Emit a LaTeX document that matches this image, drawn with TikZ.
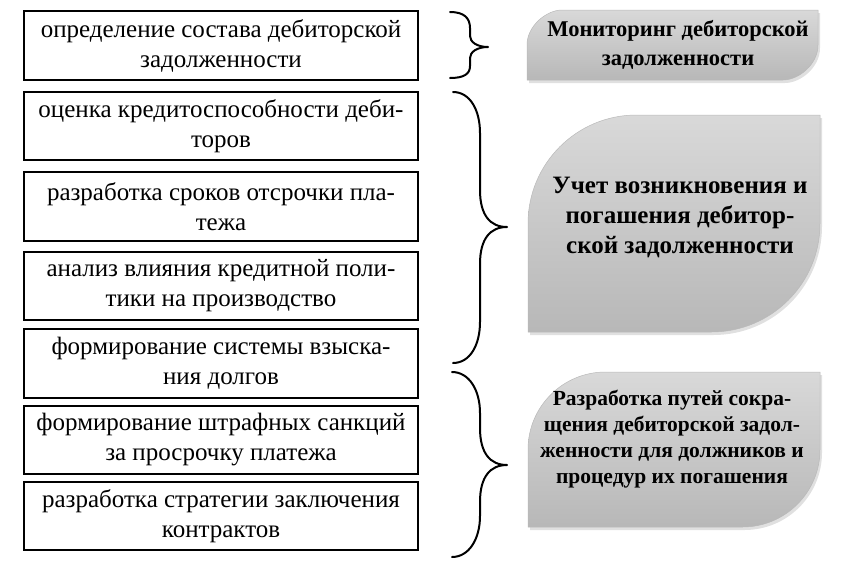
\documentclass[tikz,border=0pt]{standalone}
\usepackage{fontspec}
\setmainfont{Liberation Serif}
\begin{document}
\begin{tikzpicture}[x=1pt,y=-1pt,
  lbox/.style={draw=black, line width=1.4pt, minimum width=394pt, align=center, inner sep=0pt,
    font=\fontsize{25}{30}\selectfont},
  leaf/.style={draw=gray!55, line width=0.5pt, top color=black!15, bottom color=black!28},
  leafshadow/.style={fill=black, opacity=0.12},
  brc/.style={line width=2pt, line cap=round, line join=round},
  rtext/.style={align=center, inner sep=0pt, font=\bfseries\fontsize{22.5}{29}\selectfont}]
\useasboundingbox (0,0) rectangle (841,565);
% left boxes
\node[lbox, minimum height=69pt] (b1) at (221,45.5) {определение состава дебиторской\\задолженности};
\node[lbox, minimum height=68pt] (b2) at (221,126) {оценка кредитоспособности деби-\\торов};
\node[lbox, minimum height=69pt] (b3) at (221,206.5) {разработка сроков отсрочки пла-\\тежа};
\node[lbox, minimum height=68pt] (b4) at (221,286) {анализ влияния кредитной поли-\\тики на производство};
\node[lbox, minimum height=69pt] (b5) at (221,363.5) {формирование системы взыска-\\ния долгов};
\node[lbox, minimum height=68pt] (b6) at (221,440) {формирование штрафных санкций\\за просрочку платежа};
\node[lbox, minimum height=68pt] (b7) at (221,516) {разработка стратегии заключения\\контрактов};
% braces
\draw[brc] (450,12) .. controls (464,12) and (470,18) .. (470,28) -- (470,36)
  .. controls (470,42) and (477,47) .. (488,47)
  .. controls (477,47) and (470,52) .. (470,58) -- (470,66)
  .. controls (470,74) and (464,78) .. (450,78);
\draw[brc] (453,92) .. controls (470,92) and (480,110) .. (480,133) -- (480,190)
  .. controls (480,215) and (490,227) .. (507,227)
  .. controls (490,227) and (480,239) .. (480,264) -- (480,322)
  .. controls (480,345) and (470,363) .. (453,363);
\draw[brc] (452,372) .. controls (469,372) and (480,390) .. (480,413) -- (480,428)
  .. controls (480,453) and (490,465) .. (507,465)
  .. controls (490,465) and (480,477) .. (480,502) -- (480,516)
  .. controls (480,539) and (469,557) .. (452,557);
% leaf shapes: shadows
\begin{scope}[shift={(2,3)}]
\fill[leafshadow] (527,80) -- (527,45) .. controls (527,25.7) and (546.7,10) .. (562,10) -- (818,10) -- (818,45) .. controls (818,64.3) and (798.7,80) .. (783,80) -- cycle;
\fill[leafshadow] (528,332) -- (528,223.5) .. controls (528,163.6) and (576.6,115) .. (636.5,115) -- (820,115) -- (820,223.5) .. controls (820,283.4) and (771.4,332) .. (711.5,332) -- cycle;
\fill[leafshadow] (528,527) -- (528,449.5) .. controls (528,406.7) and (562.7,372) .. (605.5,372) -- (820,372) -- (820,449.5) .. controls (820,492.3) and (785.3,527) .. (742.5,527) -- cycle;
\end{scope}
\path[leaf] (527,80) -- (527,45) .. controls (527,25.7) and (546.7,10) .. (562,10) -- (818,10) -- (818,45) .. controls (818,64.3) and (798.7,80) .. (783,80) -- cycle;
\path[leaf] (528,332) -- (528,223.5) .. controls (528,163.6) and (576.6,115) .. (636.5,115) -- (820,115) -- (820,223.5) .. controls (820,283.4) and (771.4,332) .. (711.5,332) -- cycle;
\path[leaf] (528,527) -- (528,449.5) .. controls (528,406.7) and (562.7,372) .. (605.5,372) -- (820,372) -- (820,449.5) .. controls (820,492.3) and (785.3,527) .. (742.5,527) -- cycle;
\node[rtext] (r1) at (678,45) {Мониторинг дебиторской\\задолженности};
\node[rtext, font=\bfseries\fontsize{25}{30}\selectfont] (r2) at (680,217) {Учет возникновения и\\погашения дебитор-\\ской задолженности};
\node[rtext, font=\bfseries\fontsize{21.5}{26}\selectfont] (r3) at (672,439) {Разработка путей сокра-\\щения дебиторской задол-\\женности для должников и\\процедур их погашения};
\end{tikzpicture}
\end{document}
